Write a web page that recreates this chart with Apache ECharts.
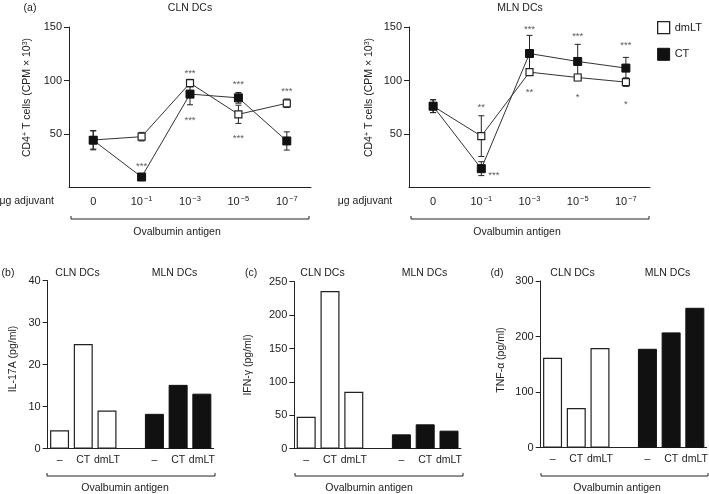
<!DOCTYPE html>
<html><head><meta charset="utf-8">
<script src="https://cdn.jsdelivr.net/npm/echarts@6/dist/echarts.min.js"></script>
<style>html,body{margin:0;padding:0;background:#fff}#c{width:709px;height:494px}</style>
</head><body><div id="c"></div>
<script>
// ---- data ----
const doses = ['0', '10^−1', '10^−3', '10^−5', '10^−7'];
const clnDmLT = [44.4, 47.5, 97.6, 68.4, 78.7];
const clnDmLTErr = [8.5, 4, 3.5, 8.5, 4];
const clnCT = [44.2, 9.8, 87.3, 83.8, 43.5];
const clnCTErr = [9, 2, 10, 5, 8.5];
const mlnDmLT = [76, 48, 107.8, 102.8, 98.5];
const mlnDmLTErr = [6, 19, 3, 3, 4];
const mlnCT = [76, 17.6, 125.2, 117.8, 111.6];
const mlnCTErr = [6, 6.5, 17, 16, 10];
const clnStars = [['10^−1', 20, '***'], ['10^−3', 107, '***'], ['10^−3', 63, '***'], ['10^−5', 96, '***'], ['10^−5', 46, '***'], ['10^−7', 90, '***']];
const mlnStars = [['10^−1', 75, '**'], ['10^−3', 148, '***'], ['10^−3', 89, '**'], ['10^−5', 141.5, '***'], ['10^−5', 84, '*'], ['10^−7', 133, '***'], ['10^−7', 78, '*']];
const mlnStarsRight = [['10^−1', 11, '***']];
const barCats = ['–', 'CT', 'dmLT', '', '–', 'CT', 'dmLT'];
const il17Cln = [4.4, 24.9, 9.1];
const il17Mln = [8.3, 15.2, 13.1];
const ifngCln = [47.9, 236, 85.3];
const ifngMln = [21.5, 36.5, 27];
const tnfCln = [161.9, 71.4, 179.3];
const tnfMln = [178, 207.5, 251.8];

// ---- styles ----
const FF = 'Liberation Sans, Arial, Helvetica, sans-serif';
const TXT = '#222';
const AX = '#222';
const chart = echarts.init(document.getElementById('c'), null, {renderer: 'canvas'});

function doseFmt(v) {
  if (v.indexOf('^') < 0) return '{b|' + v + '}';
  const p = v.split('^');
  return '{b|' + p[0] + '}{s|' + p[1] + '}';
}
const doseRich = {
  b: {fontSize: 11, color: TXT, fontFamily: FF, lineHeight: 14},
  s: {fontSize: 7.5, color: TXT, fontFamily: FF, verticalAlign: 'top', padding: [0, 0, 0, 1]}
};

function lineX(i) {
  return {type: 'category', gridIndex: i, data: doses, boundaryGap: true,
    axisLine: {lineStyle: {color: AX, width: 1}}, axisTick: {show: false},
    axisLabel: {margin: 7, interval: 0, formatter: doseFmt, rich: doseRich}};
}
function lineY(i) {
  return {type: 'value', gridIndex: i, min: 0, max: 150, interval: 50,
    splitLine: {show: false},
    axisLine: {show: true, lineStyle: {color: AX, width: 1}},
    axisTick: {show: true, length: 5, lineStyle: {color: AX}, customValues: [50, 100, 150]},
    axisLabel: {margin: 7, color: TXT, fontSize: 11, fontFamily: FF, customValues: [50, 100, 150]}};
}
function barX(i) {
  return {type: 'category', gridIndex: i, data: barCats, boundaryGap: true,
    axisLine: {lineStyle: {color: AX, width: 1}}, axisTick: {show: false},
    axisLabel: {margin: 6, color: TXT, fontSize: 10.5, fontFamily: FF, interval: 0}};
}
function barY(i, max, step) {
  return {type: 'value', gridIndex: i, min: 0, max: max, interval: step,
    splitLine: {show: false},
    axisLine: {show: true, lineStyle: {color: AX, width: 1}},
    axisTick: {show: true, length: 5, lineStyle: {color: AX}},
    axisLabel: {margin: 7, color: TXT, fontSize: 11, fontFamily: FF}};
}

function errData(m, e) { return m.map((v, i) => [i, v - e[i], v + e[i]]); }
function errSeries(gi, m, e) {
  return {type: 'custom', xAxisIndex: gi, yAxisIndex: gi, z: 2, silent: true,
    data: errData(m, e),
    encode: {x: 0, y: [1, 2]},
    renderItem: function (params, api) {
      const lo = api.coord([api.value(0), api.value(1)]);
      const hi = api.coord([api.value(0), api.value(2)]);
      const w = 3;
      const st = {stroke: '#222', lineWidth: 1, fill: null};
      return {type: 'group', children: [
        {type: 'line', shape: {x1: hi[0], y1: hi[1], x2: lo[0], y2: lo[1]}, style: st},
        {type: 'line', shape: {x1: hi[0] - w, y1: hi[1], x2: hi[0] + w, y2: hi[1]}, style: st},
        {type: 'line', shape: {x1: lo[0] - w, y1: lo[1], x2: lo[0] + w, y2: lo[1]}, style: st}
      ]};
    }};
}
function lineSeries(name, gi, data, filled) {
  return {type: 'line', name: name, xAxisIndex: gi, yAxisIndex: gi, data: data, z: filled ? 4 : 3,
    symbol: 'rect', symbolSize: filled ? 8 : 7, showAllSymbol: true,
    lineStyle: {color: '#333', width: 1},
    itemStyle: filled ? {color: '#111', borderColor: '#111', borderWidth: 1} : {color: '#fff', borderColor: '#222', borderWidth: 1.2},
    emphasis: {disabled: true}};
}
function starSeries(gi, data, pos) {
  return {type: 'scatter', xAxisIndex: gi, yAxisIndex: gi, data: data, symbolSize: 0, z: 5, silent: true,
    label: {show: true, position: pos || 'inside', distance: 7, formatter: p => p.data[2], color: '#333', fontSize: 9.5, fontFamily: FF}};
}
function barSeries(gi, cln, mln) {
  const pad = ['-', '-', '-', '-'];
  return [
    {type: 'bar', xAxisIndex: gi, yAxisIndex: gi, data: cln.concat(pad), barWidth: 19, barGap: '-100%',
      itemStyle: {color: '#fff', borderColor: '#222', borderWidth: 1.2}, emphasis: {disabled: true}},
    {type: 'bar', xAxisIndex: gi, yAxisIndex: gi, data: pad.concat(mln), barWidth: 19, barGap: '-100%',
      itemStyle: {color: '#111', borderColor: '#111', borderWidth: 1}, emphasis: {disabled: true}}
  ];
}

function txt(x, y, s, size, extra) {
  return Object.assign({type: 'text', silent: true, style: {x: x, y: y, text: s, fill: TXT, fontSize: size || 10.5, fontFamily: FF, align: 'center', verticalAlign: 'middle'}}, extra || {});
}
function bracket(x1, x2, y) {
  return {type: 'polyline', silent: true, shape: {points: [[x1, y - 3], [x1, y], [x2, y], [x2, y - 3]]}, style: {stroke: '#222', lineWidth: 1, fill: null}};
}
function vtxt(x, y, s, rich) {
  return {type: 'text', silent: true, x: x, y: y, rotation: Math.PI / 2,
    style: {text: s, fill: TXT, fontSize: 10.5, fontFamily: FF, align: 'center', verticalAlign: 'middle', rich: rich}};
}
const cdRich = {
  n: {fontSize: 10.5, fontFamily: FF, fill: TXT, color: TXT},
  s: {fontSize: 7, fontFamily: FF, fill: TXT, color: TXT, verticalAlign: 'top'}
};
const cdLabel = '{n|CD4}{s|+}{n| T cells (CPM × 10}{s|3}{n|)}';

const option = {
  animation: false,
  backgroundColor: '#fff',
  textStyle: {fontFamily: FF},
  grid: [
    {left: 69, top: 27, width: 242, height: 160.5, outerBoundsMode: 'none'},
    {left: 409, top: 27, width: 241, height: 160.5, outerBoundsMode: 'none'},
    {left: 47.7, top: 280.7, width: 166, height: 168, outerBoundsMode: 'none'},
    {left: 294.3, top: 281.7, width: 166.6, height: 167, outerBoundsMode: 'none'},
    {left: 540.7, top: 281, width: 166, height: 166.7, outerBoundsMode: 'none'}
  ],
  xAxis: [lineX(0), lineX(1), barX(2), barX(3), barX(4)],
  yAxis: [lineY(0), lineY(1), barY(2, 40, 10), barY(3, 250, 50), barY(4, 300, 100)],
  legend: {orient: 'vertical', left: 652, top: 16, itemWidth: 12, itemHeight: 12, itemGap: 13.5, icon: 'rect',
    selectedMode: false,
    textStyle: {fontSize: 11, color: TXT, fontFamily: FF},
    data: [{name: 'dmLT', itemStyle: {color: '#fff', borderColor: '#222', borderWidth: 1.3}},
           {name: 'CT', itemStyle: {color: '#111', borderColor: '#111', borderWidth: 1}}]},
  series: [
    errSeries(0, clnDmLT, clnDmLTErr), errSeries(0, clnCT, clnCTErr),
    lineSeries('dmLT', 0, clnDmLT, false), lineSeries('CT', 0, clnCT, true),
    starSeries(0, clnStars),
    errSeries(1, mlnDmLT, mlnDmLTErr), errSeries(1, mlnCT, mlnCTErr),
    lineSeries('dmLT', 1, mlnDmLT, false), lineSeries('CT', 1, mlnCT, true),
    starSeries(1, mlnStars), starSeries(1, mlnStarsRight, 'right')
  ].concat(barSeries(2, il17Cln, il17Mln), barSeries(3, ifngCln, ifngMln), barSeries(4, tnfCln, tnfMln)),
  graphic: [
    txt(30, 8, '(a)'), txt(190, 8, 'CLN DCs'), txt(520, 8, 'MLN DCs'),
    vtxt(27.5, 97.5, cdLabel, cdRich), vtxt(369, 97.5, cdLabel, cdRich),
    txt(26.7, 201, 'μg adjuvant'), txt(365, 201, 'μg adjuvant'),
    bracket(71, 309, 219), bracket(411, 649, 219),
    txt(177, 232, 'Ovalbumin antigen'), txt(517, 232, 'Ovalbumin antigen'),
    txt(8, 273, '(b)'), txt(77.5, 273, 'CLN DCs'), txt(174.5, 273, 'MLN DCs'),
    txt(251, 273, '(c)'), txt(322.5, 273, 'CLN DCs'), txt(424.5, 273, 'MLN DCs'),
    txt(497, 273, '(d)'), txt(572.5, 273, 'CLN DCs'), txt(667.5, 273, 'MLN DCs'),
    vtxt(12.7, 359, 'IL-17A (pg/ml)'), vtxt(248, 365, 'IFN-γ (pg/ml)'), vtxt(500.8, 360, 'TNF-α (pg/ml)'),
    bracket(47, 215, 476), bracket(295, 463, 476), bracket(541, 708, 476),
    txt(125, 488.5, 'Ovalbumin antigen'), txt(369, 488.5, 'Ovalbumin antigen'), txt(617, 488.5, 'Ovalbumin antigen')
  ]
};
chart.setOption(option);
</script></body></html>
